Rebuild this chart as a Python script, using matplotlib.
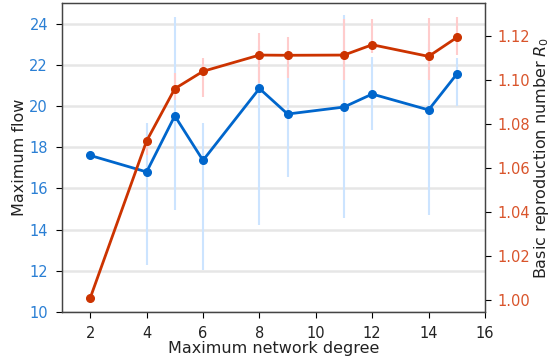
import matplotlib
matplotlib.use("Agg")
import matplotlib.pyplot as plt
import numpy as np

degree = [2, 4, 5, 6, 8, 9, 11, 12, 14, 15]

flow = [17.6, 16.8, 19.52, 17.36, 20.85, 19.61, 19.95, 20.58, 19.81, 21.55]
flow_low = [17.6, 12.30, 14.93, 12.04, 14.24, 16.57, 14.56, 18.83, 14.73, 20.0]
flow_high = [17.6, 19.19, 24.30, 19.17, 22.9, 22.6, 24.40, 22.37, 23.0, 22.32]

r0 = [1.0009, 1.0724, 1.0962, 1.1041, 1.1115, 1.1114, 1.1115, 1.1162, 1.1109, 1.1195]
r0_low = [1.0009, 1.0659, 1.0909, 1.0924, 1.0986, 1.1009, 1.1000, 1.1123, 1.1000, 1.1114]
r0_high = [1.0009, 1.0742, 1.1032, 1.1101, 1.1214, 1.1195, 1.1277, 1.1277, 1.1282, 1.1286]

x_ticks = [2, 4, 6, 8, 10, 12, 14, 16]
flow_ticks = [10, 12, 14, 16, 18, 20, 22, 24]
r0_ticks = [1.00, 1.02, 1.04, 1.06, 1.08, 1.10, 1.12]

blue = "#0066cc"
red = "#cc3300"
blue_light = "#cce4ff"
red_light = "#ffcccc"

fig = plt.figure(figsize=(5.54, 3.6), dpi=100)
ax = fig.add_axes([62/554, 1-312/360, (485-62)/554, (312-3)/360])
ax2 = ax.twinx()

f = np.array(flow)
ax.errorbar(degree, flow, yerr=[f - np.array(flow_low), np.array(flow_high) - f],
            fmt='none', ecolor=blue_light, elinewidth=1.5, zorder=1)
ax.plot(degree, flow, '-o', color=blue, lw=2, ms=5.5, zorder=3)

r = np.array(r0)
ax2.errorbar(degree, r0, yerr=[r - np.array(r0_low), np.array(r0_high) - r],
             fmt='none', ecolor=red_light, elinewidth=1.5, zorder=1)
ax2.plot(degree, r0, '-o', color=red, lw=2, ms=5.5, zorder=3)

ax.set_xlim(1, 16)
ax.set_ylim(10, 25)
ax2.set_ylim(0.99455, 1.1352)
ax.set_xticks(x_ticks)
ax.set_yticks(flow_ticks)
ax2.set_yticks(r0_ticks)
ax2.set_yticklabels([f"{v:.2f}" for v in r0_ticks])

ax.grid(axis='y', color='#e6e6e6', lw=1.8, zorder=0)
ax.set_axisbelow(True)

ax.tick_params(axis='y', colors='#2a7fd4', labelsize=10.5, pad=6, length=4)
ax.tick_params(axis='y', color='black')
ax.tick_params(axis='x', labelsize=10.5, colors='#222222', pad=6, length=4)
ax.tick_params(axis='x', color='black')
ax2.tick_params(axis='y', colors='#d9542b', labelsize=10.5, pad=5, length=4)
ax2.tick_params(axis='y', color='black')

for a in (ax, ax2):
    for s in a.spines.values():
        s.set_color('#444444')
        s.set_linewidth(0.9)

ax.set_xlabel("Maximum network degree", fontsize=11.5, color='#222222', labelpad=0)
ax.set_ylabel("Maximum flow", fontsize=11.5, color='#222222', labelpad=2)
ax2.set_ylabel("Basic reproduction number $R_0$", fontsize=11.5, color='#222222', labelpad=1)

fig.savefig("out.png", dpi=100)
